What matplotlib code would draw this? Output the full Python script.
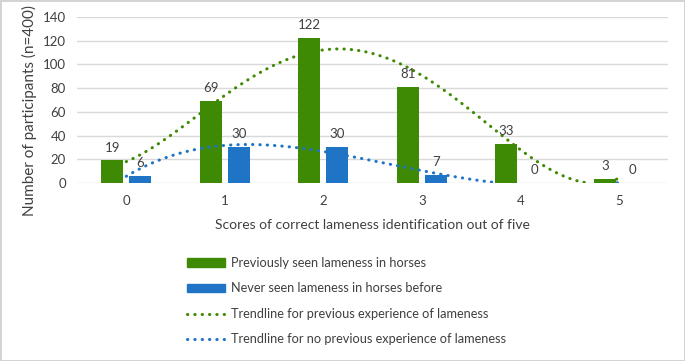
import numpy as np
import matplotlib.pyplot as plt
from matplotlib.patches import Patch
from matplotlib.lines import Line2D

plt.rcParams['font.family'] = ['Lato', 'DejaVu Sans']

# data
scores = [0, 1, 2, 3, 4, 5]
seen = [19, 69, 122, 81, 33, 3]
never = [6, 30, 30, 7, 0, 0]
green = '#3f8a04'
blue = '#1f74c6'
fs = 9.5

fig = plt.figure(figsize=(6.85, 3.61), dpi=100, edgecolor='#d4d4d4', linewidth=2)
ax = fig.add_axes([0.1124, 0.4931, 0.8628, 0.4598])

x = np.array(scores)
w = 0.225
off = 0.142
b1 = ax.bar(x - off, seen, w, color=green, zorder=2)
b2 = ax.bar(x + off, never, w, color=blue, zorder=2)

for bars, vals in [(b1, seen), (b2, never)]:
    for r, v in zip(bars, vals):
        ax.annotate(str(v), (r.get_x() + r.get_width() / 2, v), xytext=(0, 5),
                    textcoords='offset points', ha='center', va='bottom',
                    fontsize=fs, color='#404040', zorder=4)

# polynomial trendlines (order 4), clipped at the axis like Excel
xs = np.linspace(0, 5, 300)
for vals, c in [(seen, green), (never, blue)]:
    p = np.polyfit(x, vals, 4)
    ys = np.polyval(p, xs)
    ys = np.where(ys < 0, np.nan, ys)
    ax.plot(xs, ys, color=c, lw=2.2, linestyle=(0, (0.1, 2.3)),
            dash_capstyle='round', zorder=3)

ax.set_xlim(-0.5, 5.5)
ax.set_ylim(0, 140)
ax.set_yticks(range(0, 141, 20))
ax.set_xticks(scores)
ax.grid(axis='y', color='#d9d9d9', lw=1, zorder=0)
ax.set_axisbelow(True)
for s in ax.spines.values():
    s.set_visible(False)
ax.tick_params(length=0, labelsize=fs, labelcolor='#404040')
ax.tick_params(axis='x', pad=9)
ax.tick_params(axis='y', pad=8)
ax.set_xlabel('Scores of correct lameness identification out of five',
              fontsize=fs + 0.5, color='#404040', labelpad=8)
ax.set_ylabel('Number of participants (n=400)', fontsize=fs + 1.5,
              color='#404040')
ax.yaxis.set_label_coords(-0.068, 0.434)

handles = [Patch(color=green), Patch(color=blue),
           Line2D([], [], color=green, lw=2.2, linestyle=(0, (0.1, 2.3)), dash_capstyle='round'),
           Line2D([], [], color=blue, lw=2.2, linestyle=(0, (0.1, 2.3)), dash_capstyle='round')]
labels = ['Previously seen lameness in horses',
          'Never seen lameness in horses before',
          'Trendline for previous experience of lameness',
          'Trendline for no previous experience of lameness']
leg = fig.legend(handles, labels, loc='upper left', bbox_to_anchor=(187 / 685, 1 - 257 / 361),
                 frameon=False, fontsize=fs - 0.3, handlelength=3.0, handleheight=0.6,
                 handletextpad=0.45, labelspacing=1.05, borderpad=0, borderaxespad=0)
for t in leg.get_texts():
    t.set_color('#404040')

fig.savefig('out.png', dpi=100)
